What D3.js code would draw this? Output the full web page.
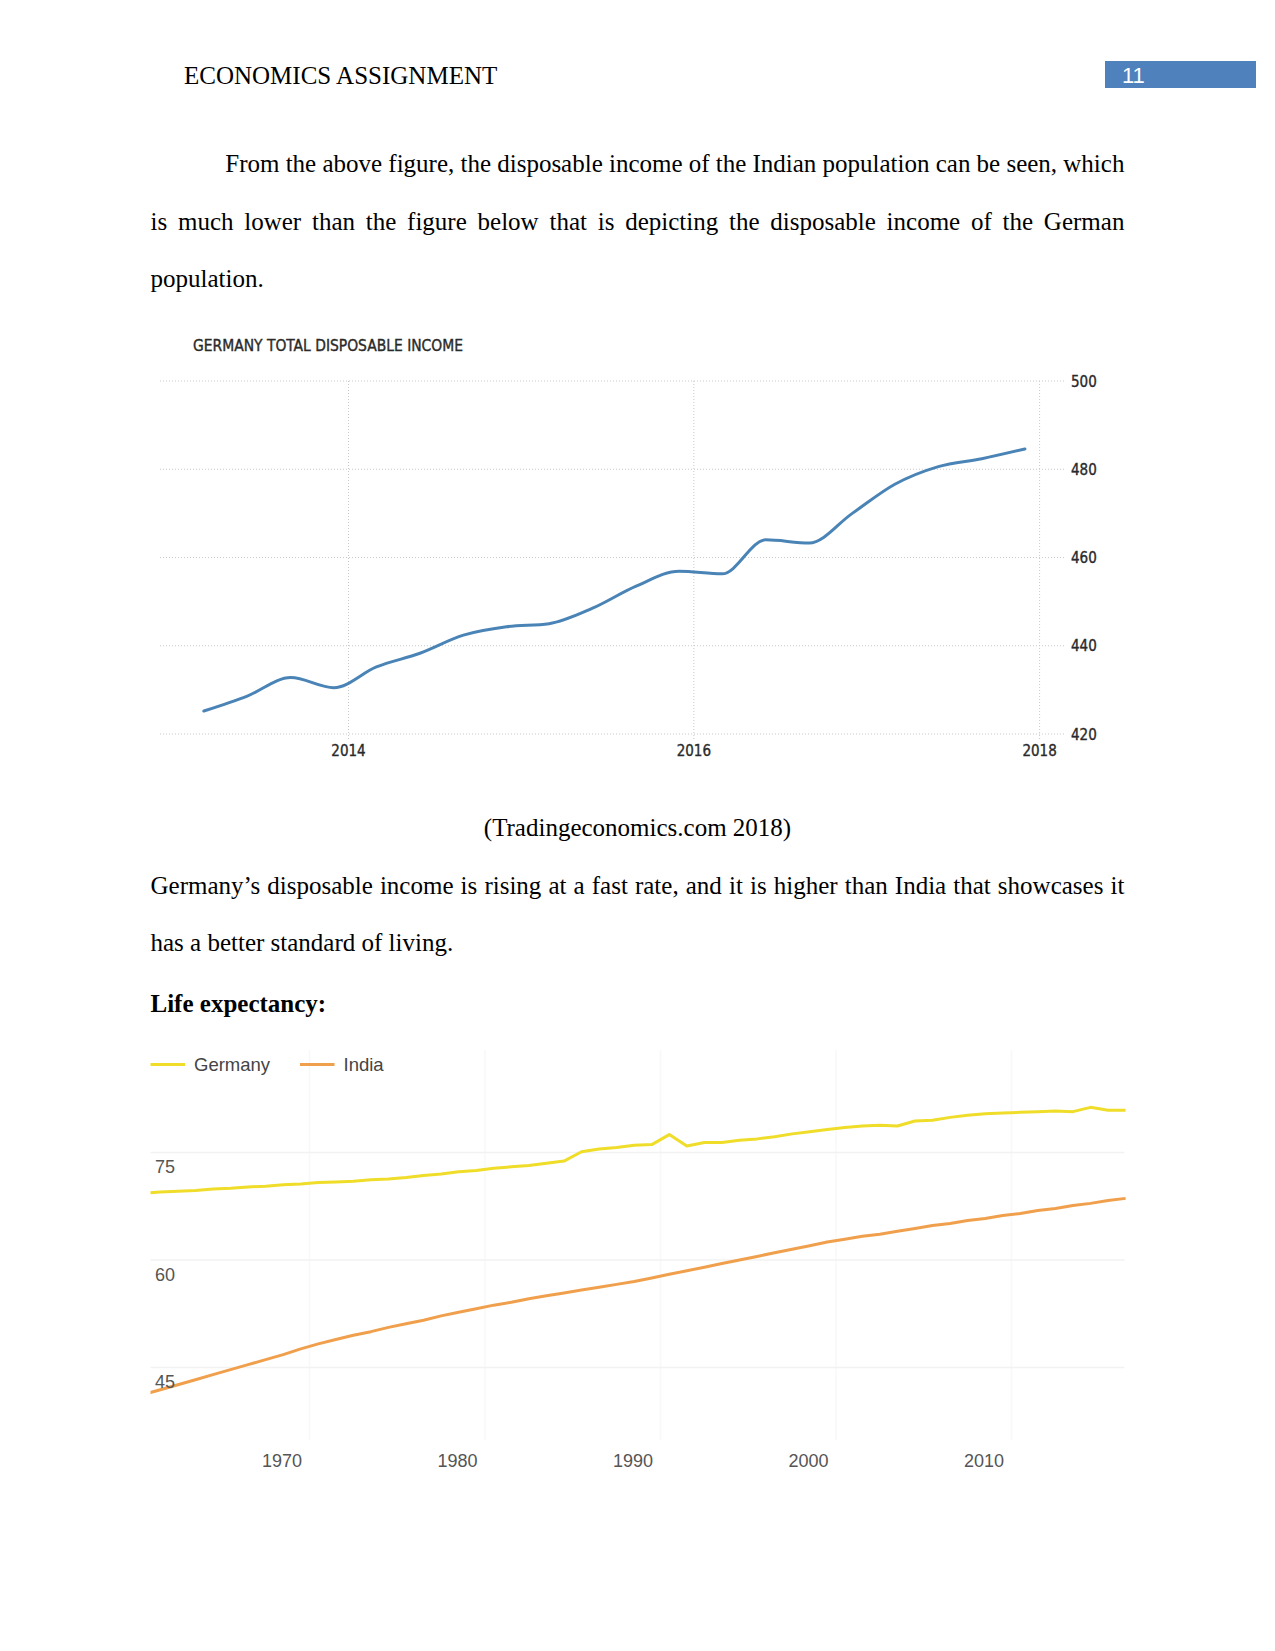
<!DOCTYPE html>
<html><head><meta charset="utf-8">
<script src="https://cdn.jsdelivr.net/npm/d3@7"></script>
<style>
html,body{margin:0;padding:0;background:#fff;}
svg{display:block;}
.body{font-family:'Liberation Serif','Times New Roman',serif;font-size:25px;fill:#000;}
.te{font-family:'DejaVu Sans Condensed','DejaVu Sans',sans-serif;font-size:15px;fill:#2a2a2a;stroke:#2a2a2a;stroke-width:0.35px;}
.gd{font-family:'Liberation Sans',Arial,sans-serif;fill:#555;}
</style></head>
<body>
<svg id="page" width="1275" height="1651"></svg>
<script>
// ---------- DATA ----------
const headerTitle = "ECONOMICS ASSIGNMENT";
const pageNumber = "11";
const para1 = [
  "From the above figure, the disposable income of the Indian population can be seen, which",
  "is much lower than the figure below that is depicting the disposable income of the German",
  "population."
];
const caption = "(Tradingeconomics.com 2018)";
const para2 = [
  "Germany\u2019s disposable income is rising at a fast rate, and it is higher than India that showcases it",
  "has a better standard of living."
];
const heading = "Life expectancy:";

// Chart 1: Germany total disposable income (quarterly)
const incomeTitle = "GERMANY TOTAL DISPOSABLE INCOME";
const incomeDates = ["2013-03","2013-06","2013-09","2013-12","2014-03","2014-06","2014-09","2014-12",
  "2015-03","2015-06","2015-09","2015-12","2016-03","2016-06","2016-09","2016-12",
  "2017-03","2017-06","2017-09","2017-12"];
const incomeValues = [425.2, 428.6, 432.8, 430.5, 435.2, 438.3, 442.4, 444.3,
  445.0, 448.5, 453.5, 456.9, 456.3, 464.0, 463.3, 470.0,
  476.6, 480.6, 482.4, 484.6];
const incomeYTicks = [420, 440, 460, 480, 500];
const incomeXTicks = ["2014", "2016", "2018"];

// Chart 2: Life expectancy (years)
const lifeYears = [1960,1961,1962,1963,1964,1965,1966,1967,1968,1969,
  1970,1971,1972,1973,1974,1975,1976,1977,1978,1979,
  1980,1981,1982,1983,1984,1985,1986,1987,1988,1989,
  1990,1991,1992,1993,1994,1995,1996,1997,1998,1999,
  2000,2001,2002,2003,2004,2005,2006,2007,2008,2009,
  2010,2011,2012,2013,2014,2015,2016];
const germanyLife = [69.3,69.5,69.6,69.7,69.9,70.0,70.2,70.3,70.5,70.6,
  70.8,70.9,71.0,71.2,71.3,71.5,71.8,72.0,72.3,72.5,
  72.8,73.0,73.2,73.5,73.8,75.1,75.5,75.7,76.0,76.1,
  77.5,75.9,76.4,76.4,76.7,76.9,77.2,77.6,77.9,78.2,
  78.5,78.7,78.8,78.7,79.4,79.5,79.9,80.2,80.4,80.5,
  80.6,80.7,80.8,80.7,81.3,80.9,80.9];
const indiaLife = [41.2,41.9,42.6,43.3,44.0,44.7,45.4,46.1,46.8,47.6,
  48.3,48.9,49.5,50.0,50.6,51.1,51.6,52.2,52.7,53.2,
  53.7,54.1,54.6,55.0,55.4,55.8,56.2,56.6,57.0,57.5,
  58.0,58.5,59.0,59.5,60.0,60.5,61.0,61.5,62.0,62.5,
  62.9,63.3,63.6,64.0,64.4,64.8,65.1,65.5,65.8,66.2,
  66.5,66.9,67.2,67.6,67.9,68.3,68.6];
const lifeSeries = ["Germany", "India"];
const lifeColors = ["#efdd2a", "#f0a04c"];
const lifeYTicks = [45, 60, 75];
const lifeXTicks = [1970, 1980, 1990, 2000, 2010];

// ---------- PAGE ----------
const svg = d3.select("#page");
const L = 150.5, R = 1124.4;

function textLine(str, x, y, cls, width) {
  const t = svg.append("text").attr("class", cls).attr("x", x).attr("y", y);
  if (!width) { t.text(str); return t; }
  const words = str.split(" ");
  const spans = words.map(w => t.append("tspan").text(w));
  const widths = spans.map(s => s.node().getComputedTextLength());
  const total = d3.sum(widths);
  const gap = (width - total) / (words.length - 1);
  let cx = x;
  spans.forEach((s, i) => { s.attr("x", cx); cx += widths[i] + gap; });
  return t;
}

// header
textLine(headerTitle, 184, 84, "body");
svg.append("rect").attr("x", 1105).attr("y", 61).attr("width", 151).attr("height", 27).attr("fill", "#4f81bd");
svg.append("text").attr("x", 1122).attr("y", 83)
  .style("font-family", "'Liberation Sans',Arial,sans-serif").style("font-size", "22px").attr("fill", "#fff")
  .text(pageNumber);

// paragraph 1
textLine(para1[0], 225.3, 172, "body", R - 225.3);
textLine(para1[1], L, 229.5, "body", R - L);
textLine(para1[2], L, 287, "body");

// ---------- CHART 1 ----------
const parseM = d3.timeParse("%Y-%m");
const x1 = d3.scaleTime().domain([new Date(2014,0,1), new Date(2018,0,1)]).range([348.5, 1039.6]);
const y1 = d3.scaleLinear().domain([420, 500]).range([734, 381]);
const g1 = svg.append("g");
g1.append("text").attr("class", "te").attr("x", 193).attr("y", 350.5)
  .attr("textLength", 270).attr("lengthAdjust", "spacingAndGlyphs").text(incomeTitle);

g1.selectAll("line.hg").data(incomeYTicks).join("line").attr("class", "hg")
  .attr("x1", 160).attr("x2", 1064).attr("y1", d => y1(d)).attr("y2", d => y1(d))
  .attr("stroke", "#c9c9c9").attr("stroke-width", 1).attr("stroke-dasharray", "1,2");
g1.selectAll("line.vg").data(incomeXTicks).join("line").attr("class", "vg")
  .attr("x1", d => x1(new Date(+d, 0, 1))).attr("x2", d => x1(new Date(+d, 0, 1)))
  .attr("y1", 381).attr("y2", 741)
  .attr("stroke", "#c9c9c9").attr("stroke-width", 1).attr("stroke-dasharray", "1,2");
g1.selectAll("text.yl").data(incomeYTicks).join("text").attr("class", "te yl")
  .attr("x", 1071).attr("y", d => y1(d) + 5.5).text(d => d);
g1.selectAll("text.xl").data(incomeXTicks).join("text").attr("class", "te xl")
  .attr("text-anchor", "middle").attr("x", d => x1(new Date(+d, 0, 1))).attr("y", 756).text(d => d);

const incomeData = incomeDates.map((d, i) => ({date: parseM(d), v: incomeValues[i]}));
g1.append("path").datum(incomeData)
  .attr("d", d3.line().x(d => x1(d.date)).y(d => y1(d.v)).curve(d3.curveMonotoneX))
  .attr("fill", "none").attr("stroke", "#4a84b6").attr("stroke-width", 3).attr("stroke-linecap", "round");

// caption & paragraph 2
svg.append("text").attr("class", "body").attr("x", 637.5).attr("y", 836).attr("text-anchor", "middle").text(caption);
textLine(para2[0], L, 893.5, "body", R - L);
textLine(para2[1], L, 950.5, "body");
svg.append("text").attr("class", "body").attr("x", L).attr("y", 1011.5).style("font-weight", "bold").text(heading);

// ---------- CHART 2 ----------
const x2 = d3.scaleLinear().domain([1970, 2010]).range([309.5, 1011.5]);
const y2 = d3.scaleLinear().domain([45, 75]).range([1367.5, 1152.5]);
const g2 = svg.append("g");
svg.append("defs").append("clipPath").attr("id", "clip2").append("rect")
  .attr("x", L).attr("y", 1040).attr("width", R - L + 2).attr("height", 420);

g2.selectAll("line.vg").data(lifeXTicks).join("line").attr("class", "vg")
  .attr("x1", d => x2(d)).attr("x2", d => x2(d)).attr("y1", 1050).attr("y2", 1440)
  .attr("stroke", "#f8f8f8").attr("stroke-width", 1.5);
g2.selectAll("line.hg").data(lifeYTicks).join("line").attr("class", "hg")
  .attr("x1", L).attr("x2", R).attr("y1", d => y2(d)).attr("y2", d => y2(d))
  .attr("stroke", "#f2f2f2").attr("stroke-width", 1.5);

const seriesVals = [germanyLife, indiaLife];
seriesVals.forEach((vals, si) => {
  const pts = lifeYears.map((yr, i) => ({yr, v: vals[i]}));
  g2.append("path").datum(pts).attr("clip-path", "url(#clip2)")
    .attr("d", d3.line().x(d => x2(d.yr + 0.5)).y(d => y2(d.v)))
    .attr("fill", "none").attr("stroke", lifeColors[si]).attr("stroke-width", 3)
    .attr("stroke-linejoin", "round");
});

g2.selectAll("text.yl").data(lifeYTicks).join("text").attr("class", "gd yl")
  .style("font-size", "18px").attr("x", 155).attr("y", d => y2(d) + 20.5).text(d => d);
g2.selectAll("text.xl").data(lifeXTicks).join("text").attr("class", "gd xl")
  .style("font-size", "18px").attr("text-anchor", "end")
  .attr("x", d => x2(d) - 7.5).attr("y", 1466.5).text(d => d);

// legend
const legX = [150.5, 300];
lifeSeries.forEach((name, i) => {
  g2.append("line").attr("x1", legX[i]).attr("x2", legX[i] + 34.5).attr("y1", 1064.5).attr("y2", 1064.5)
    .attr("stroke", lifeColors[i]).attr("stroke-width", 3);
  g2.append("text").attr("class", "gd").style("font-size", "18.5px").style("fill", "#444")
    .attr("x", legX[i] + 43.5).attr("y", 1071).text(name);
});
</script>
</body></html>
